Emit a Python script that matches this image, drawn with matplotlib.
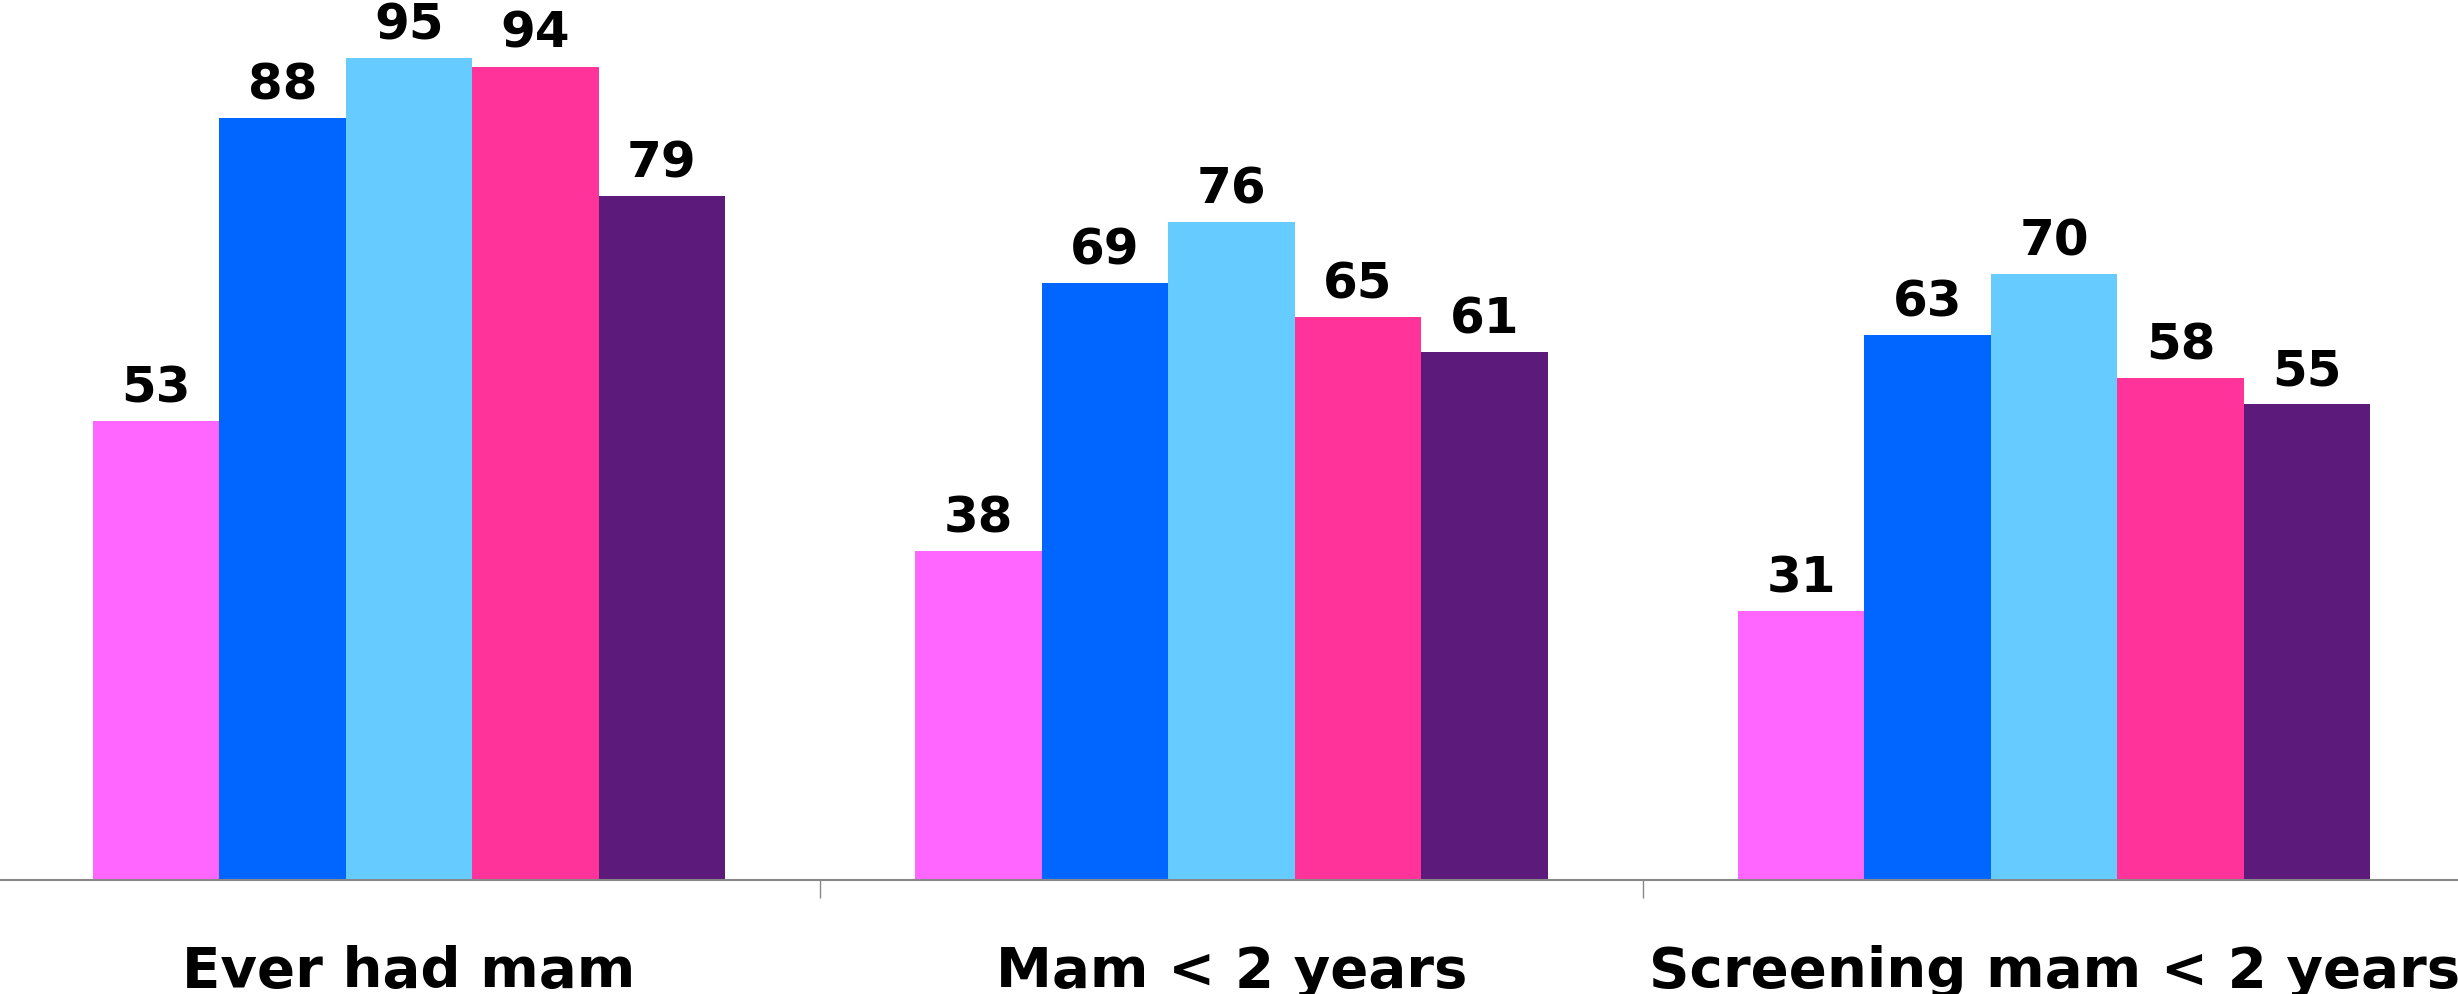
import numpy as np
import matplotlib.pyplot as plt

# Data
categories = ['Ever had mam', 'Mam < 2 years', 'Screening mam < 2 years']
series_1 = [53, 38, 31]
series_2 = [88, 69, 63]
series_3 = [95, 76, 70]
series_4 = [94, 65, 58]
series_5 = [79, 61, 55]
series = [series_1, series_2, series_3, series_4, series_5]
colors = ['#FF66FF', '#0066FF', '#66CCFF', '#FF3399', '#5C1B7B']

fig = plt.figure(figsize=(24.58, 9.94), dpi=100)
ax = fig.add_axes([0, 1 - 879.6 / 994, 1, 879.6 / 994])

x = np.arange(len(categories))
width = 0.1538
for i, (vals, c) in enumerate(zip(series, colors)):
    pos = x + (i - 2) * width
    bars = ax.bar(pos, vals, width=width, color=c, edgecolor='none')
    for b, v in zip(bars, vals):
        ax.text(b.get_x() + b.get_width() / 2, v + 1.0, str(v),
                ha='center', va='bottom', fontsize=36, fontweight='bold',
                family='DejaVu Sans')

ax.set_xlim(-0.497, 2.491)
ax.set_ylim(0, 101.7)

for s in ['top', 'right', 'left']:
    ax.spines[s].set_visible(False)
ax.spines['bottom'].set_color('#888888')
ax.spines['bottom'].set_linewidth(1.5)
ax.set_yticks([])

# labels at group centres, tick marks at group boundaries
ax.set_xticks(x)
ax.set_xticklabels(categories, fontsize=40.5, fontweight='bold')
ax.tick_params(axis='x', which='major', length=0, pad=47)
ax.set_xticks([0.5, 1.5], minor=True)
ax.tick_params(axis='x', which='minor', length=13, width=1, color='#888888')

fig.savefig('out.png', dpi=100)
